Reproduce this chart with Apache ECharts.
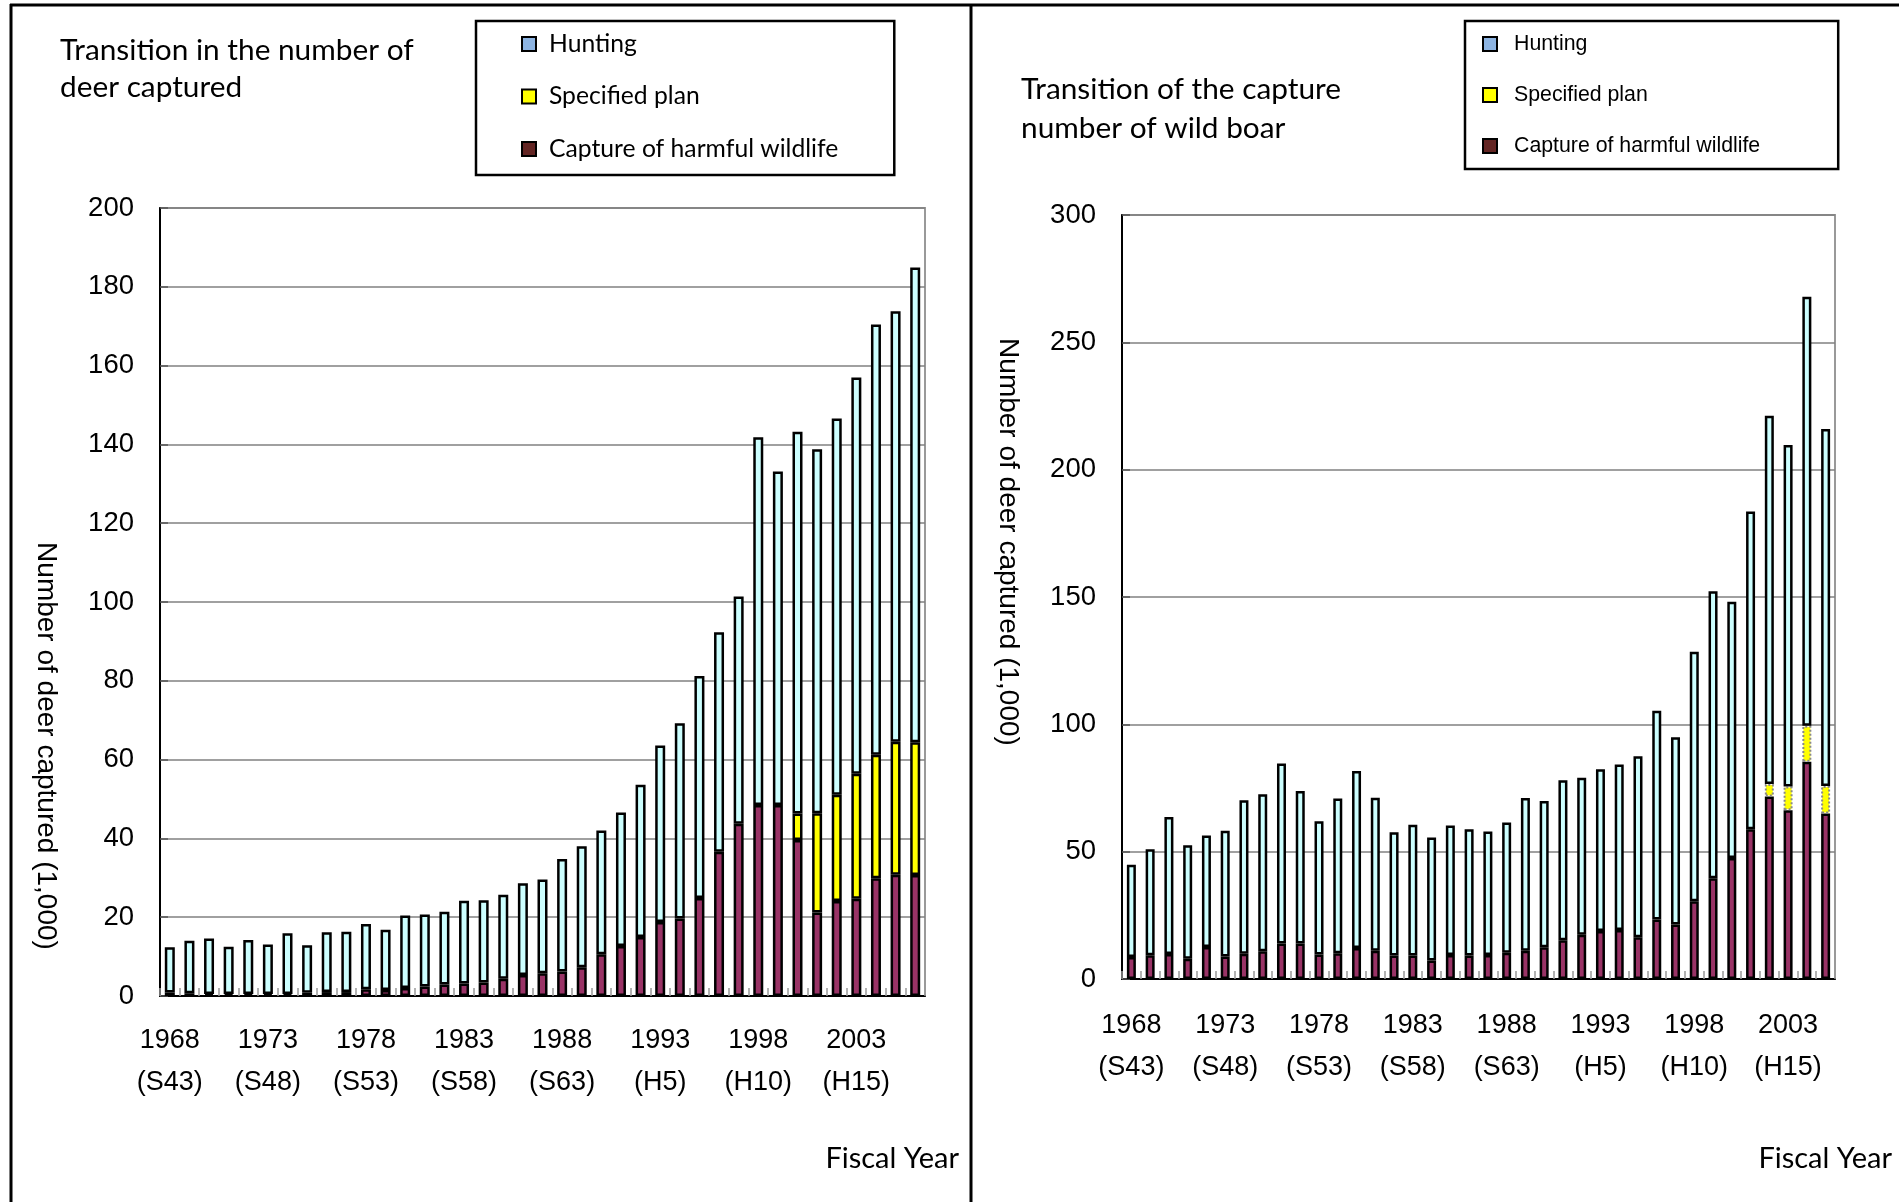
<!DOCTYPE html>
<html><head><meta charset="utf-8">
<script src="https://cdn.jsdelivr.net/npm/echarts@6/dist/echarts.min.js"></script>
<style>html,body{margin:0;padding:0;background:#fff}#c{width:1899px;height:1202px}</style>
</head><body><div id="c"></div>
<script>
// ---------- data ----------
const deerYears = ['1968','1969','1970','1971','1972','1973','1974','1975','1976','1977','1978','1979','1980','1981','1982','1983','1984','1985','1986','1987','1988','1989','1990','1991','1992','1993','1994','1995','1996','1997','1998','1999','2000','2001','2002','2003','2004','2005','2006'];
const boarYears = ['1968','1969','1970','1971','1972','1973','1974','1975','1976','1977','1978','1979','1980','1981','1982','1983','1984','1985','1986','1987','1988','1989','1990','1991','1992','1993','1994','1995','1996','1997','1998','1999','2000','2001','2002','2003','2004','2005'];
const tickYears = ['1968','1973','1978','1983','1988','1993','1998','2003'];
const tickEras  = ['(S43)','(S48)','(S53)','(S58)','(S63)','(H5)','(H10)','(H15)'];

// deer (1,000 head) – stacked segments
const deerHarmful = [0.9,0.7,0.5,0.5,0.5,0.5,0.5,0.8,1.0,1.0,1.7,1.5,2.0,2.4,2.9,3.2,3.4,4.4,5.3,5.8,6.2,7.3,10.6,12.7,15.0,18.8,19.7,24.9,36.6,43.7,48.5,48.5,39.6,21.2,24.1,24.7,29.9,30.8,30.7];
const deerPlan    = [null,null,null,null,null,null,null,null,null,null,null,null,null,null,null,null,null,null,null,null,null,null,null,null,null,null,null,null,null,null,null,null,6.7,25.2,27.0,31.7,31.3,33.7,33.7];
const deerHunting = [11.5,13.3,14.1,12.0,13.7,12.6,15.4,12.1,15.2,15.3,16.6,15.3,18.4,18.3,18.5,21.0,20.9,21.3,23.3,23.8,28.6,30.7,31.4,33.9,38.6,44.8,49.5,56.3,55.7,57.7,93.3,84.6,96.9,92.4,95.5,100.6,109.2,109.3,120.5];

// wild boar (1,000 head) – stacked segments
const boarHarmful = [8.6,9.3,9.8,8.0,12.6,8.8,9.9,10.9,13.9,13.9,9.6,10.1,12.2,11.1,9.2,9.2,7.3,9.4,9.2,9.4,10.3,11.1,12.5,15.2,17.4,18.8,19.2,16.4,23.4,21.4,30.5,39.6,47.5,58.8,71.7,66.3,85.3,65.0];
const boarPlan    = [null,null,null,null,null,null,null,null,null,null,null,null,null,null,null,null,null,null,null,null,null,null,null,null,null,null,null,null,null,null,null,null,null,null,4.9,9.3,14.1,10.8];
const boarHunting = [36.3,41.6,53.8,44.5,43.7,49.4,60.3,61.6,70.7,59.9,52.3,60.8,69.5,60.1,48.4,51.4,48.3,50.9,49.6,48.5,51.2,60.0,57.4,62.8,61.6,63.6,65.0,71.1,81.9,73.5,98.0,112.7,100.6,124.8,144.6,134.1,168.5,140.2];

const seriesNames = ['Hunting','Specified plan','Capture of harmful wildlife'];
// ---------- chart ----------
const FONT = "'Liberation Sans', Arial, sans-serif";
const TFONT = "Lato, 'Open Sans', sans-serif";
const chart = echarts.init(document.getElementById('c'), null, {renderer:'canvas'});

function xLabel(v){ const i = tickYears.indexOf(v); return i < 0 ? '' : v + '\n' + tickEras[i]; }

function xAxis(gi, data, margin){
  return {type:'category', gridIndex:gi, data:data, boundaryGap:true,
    axisLine:{lineStyle:{color:'#000', width:2}},
    axisTick:{show:true, inside:true, interval:0, length:8, lineStyle:{color:'#999', width:1.5}},
    axisLabel:{interval:4, margin:margin, formatter:xLabel, fontSize:27, lineHeight:42, color:'#000', fontFamily:FONT}};
}
function yAxis(gi, max, interval){
  return {type:'value', gridIndex:gi, min:0, max:max, interval:interval,
    axisLine:{show:true, lineStyle:{color:'#000', width:2}},
    axisTick:{show:true, inside:true, length:8, lineStyle:{color:'#555', width:1.5}},
    splitLine:{show:true, lineStyle:{color:'#808080', width:1.5}},
    axisLabel:{margin:26, fontSize:27.5, color:'#000', fontFamily:FONT}};
}
function bar(name, data, gi, color, bw, extra){
  return Object.assign({type:'bar', name:name, data:data, xAxisIndex:gi, yAxisIndex:gi, stack:'s'+gi,
    barWidth:bw, itemStyle:{color:color, borderColor:'#000', borderWidth:2.5}}, extra||{});
}

const legendColors = {'Hunting':'#8DB4E2','Specified plan':'#FFFF00','Capture of harmful wildlife':'#632523'};
function legend(left, top, padding, gap, textPad, font, fontSize){
  return {orient:'vertical', left:left, top:top, padding:padding, itemGap:gap, itemWidth:14, itemHeight:14,
    icon:'rect', borderColor:'#000', borderWidth:2.5, backgroundColor:'#fff',
    selectedMode:false,
    data: seriesNames.map(n => ({name:n, itemStyle:{color:legendColors[n], borderColor:'#000', borderWidth:2}})),
    textStyle:{fontFamily:font, fontSize:fontSize, color:'#000', lineHeight:26, padding:[0,0,0,textPad]}};
}

chart.setOption({
  backgroundColor:'#fff',
  animation:false,
  title:[
    {text:'Transition in the number of\ndeer captured', left:60, top:32, textStyle:{fontFamily:TFONT, fontWeight:'normal', fontSize:29.8, lineHeight:37, color:'#000'}, padding:0},
    {text:'Transition of the capture\nnumber of wild boar', left:1021, top:70, textStyle:{fontFamily:TFONT, fontWeight:'normal', fontSize:29.8, lineHeight:39, color:'#000'}, padding:0}
  ],
  legend:[
    legend(476, 21, [10, 56, 13, 45], 26.5, 8, TFONT, 24.7),
    legend(1465, 21, [10, 78, 10, 17], 25, 12, FONT, 21.3)
  ],
  grid:[
    {left:160, top:208, width:765, height:788, show:true, borderColor:'#999', borderWidth:2, backgroundColor:'transparent'},
    {left:1122, top:215, width:713, height:764, show:true, borderColor:'#999', borderWidth:2, backgroundColor:'transparent'}
  ],
  xAxis:[ xAxis(0, deerYears, 24), xAxis(1, boarYears, 26) ],
  yAxis:[ yAxis(0, 200, 20), yAxis(1, 300, 50) ],
  series:[
    bar('Capture of harmful wildlife', deerHarmful, 0, '#993366', 10),
    bar('Specified plan', deerPlan, 0, '#FFFF00', 10),
    bar('Hunting', deerHunting, 0, '#CCFFFF', 10),
    bar('Capture of harmful wildlife', boarHarmful, 1, '#993366', 9),
    bar('Specified plan', boarPlan, 1, '#FFFF00', 9, {itemStyle:{color:'#FFFF00', borderColor:'#888', borderWidth:2, borderType:'dotted'}}),
    bar('Hunting', boarHunting, 1, '#CCFFFF', 9)
  ],
  graphic:[
    {type:'line', shape:{x1:10, y1:5, x2:1899, y2:5}, style:{stroke:'#000', lineWidth:3}},
    {type:'line', shape:{x1:11, y1:4, x2:11, y2:1202}, style:{stroke:'#000', lineWidth:3}},
    {type:'line', shape:{x1:971, y1:4, x2:971, y2:1202}, style:{stroke:'#000', lineWidth:3}},
    {type:'text', x:46, y:746, rotation:-Math.PI/2, style:{text:'Number of deer captured (1,000)', font:'28px ' + FONT, fill:'#000', align:'center', verticalAlign:'middle'}},
    {type:'text', x:1008, y:542, rotation:-Math.PI/2, style:{text:'Number of deer captured (1,000)', font:'28px ' + FONT, fill:'#000', align:'center', verticalAlign:'middle'}},
    {type:'text', x:959, y:1159, style:{text:'Fiscal Year', font:'29px ' + TFONT, fill:'#000', align:'right', verticalAlign:'middle'}},
    {type:'text', x:1892, y:1159, style:{text:'Fiscal Year', font:'29px ' + TFONT, fill:'#000', align:'right', verticalAlign:'middle'}}
  ]
});
</script></body></html>
